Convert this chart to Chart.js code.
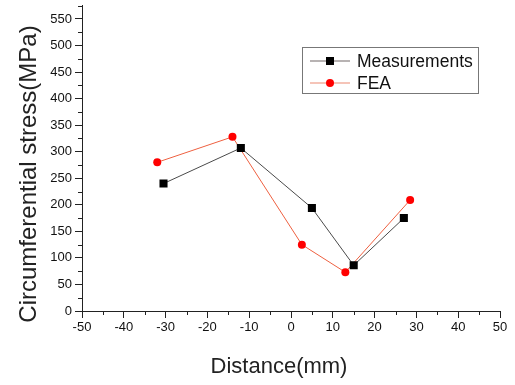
<!DOCTYPE html>
<html>
<head>
<meta charset="utf-8">
<script src="https://cdn.jsdelivr.net/npm/chart.js@4.4.0/dist/chart.umd.min.js"></script>
<style>
  html, body { margin: 0; padding: 0; background: #fff; }
  #wrap { width: 515px; height: 385px; }
</style>
</head>
<body>
<div id="wrap"><canvas id="chart" width="515" height="385"></canvas></div>
<script>
// values
const measX = [-30.5, -12, 5, 15, 27];
const measY = [240, 307, 194, 86, 175];
const feaX = [-32, -14, 2.6, 13, 28.5];
const feaY = [280, 328, 125, 73, 209];
const seriesNames = ["Measurements", "FEA"];
const yTickValues = [0, 50, 100, 150, 200, 250, 300, 350, 400, 450, 500, 550];
const xTitle = "Distance(mm)";
const yTitle = "Circumferential stress(MPa)";

const FONT = "'Liberation Sans', Arial, sans-serif";

function toPoints(xs, ys) {
  return xs.map((x, i) => ({ x: x, y: ys[i] }));
}

// minor tick marks, titles and the boxed legend inside the plot
const extras = {
  id: "extras",
  afterDraw(chart) {
    const ctx = chart.ctx;
    const xs = chart.scales.x, ys = chart.scales.y;
    ctx.save();
    ctx.strokeStyle = "#222";
    ctx.lineWidth = 1;
    ctx.beginPath();
    for (let v = -45; v <= 45; v += 10) {
      const px = Math.round(xs.getPixelForValue(v)) + 0.5;
      ctx.moveTo(px, ys.bottom);
      ctx.lineTo(px, ys.bottom + 4);
    }
    for (let v = 25; v <= 575; v += 50) {
      const py = Math.round(ys.getPixelForValue(v)) + 0.5;
      ctx.moveTo(xs.left, py);
      ctx.lineTo(xs.left - 4, py);
    }
    ctx.stroke();

    // axis titles
    ctx.fillStyle = "#222";
    ctx.textAlign = "center";
    ctx.textBaseline = "middle";
    ctx.font = "22px " + FONT;
    ctx.fillText(xTitle, 279, 367);
    ctx.translate(29, 174);
    ctx.rotate(-Math.PI / 2);
    ctx.font = "24px " + FONT;
    ctx.fillText(yTitle, 0, 0);
    ctx.restore();

    // legend
    ctx.save();
    ctx.strokeStyle = "#777";
    ctx.lineWidth = 1;
    ctx.strokeRect(302.5, 47.5, 176, 46);
    const rows = [
      { y: 61, line: "#a09a9a", marker: "rect", fill: "#000" },
      { y: 83, line: "#f2b0a0", marker: "circle", fill: "#ff0000" },
    ];
    rows.forEach((r, i) => {
      ctx.strokeStyle = r.line;
      ctx.lineWidth = 1.5;
      ctx.beginPath();
      ctx.moveTo(310, r.y);
      ctx.lineTo(350, r.y);
      ctx.stroke();
      ctx.fillStyle = r.fill;
      if (r.marker === "rect") {
        ctx.fillRect(326, r.y - 4, 8, 8);
      } else {
        ctx.beginPath();
        ctx.arc(330, r.y, 4, 0, Math.PI * 2);
        ctx.fill();
      }
      ctx.fillStyle = "#111";
      ctx.font = "17.5px " + FONT;
      ctx.textAlign = "left";
      ctx.textBaseline = "middle";
      ctx.fillText(seriesNames[i], 357, r.y + 1);
    });
    ctx.restore();
  }
};

new Chart(document.getElementById("chart"), {
  type: "scatter",
  data: {
    datasets: [
      {
        label: seriesNames[0],
        data: toPoints(measX, measY),
        showLine: true,
        borderColor: "#4a4a4a",
        borderWidth: 1,
        backgroundColor: "#000",
        pointStyle: "rect",
        pointRadius: 5.7,
        pointBorderWidth: 0,
        pointHoverRadius: 5.7,
      },
      {
        label: seriesNames[1],
        data: toPoints(feaX, feaY),
        showLine: true,
        borderColor: "#ee6040",
        borderWidth: 1,
        backgroundColor: "#ff0000",
        pointStyle: "circle",
        pointRadius: 4,
        pointBorderWidth: 0,
        pointHoverRadius: 4,
      },
    ],
  },
  options: {
    responsive: false,
    animation: false,
    layout: { padding: { left: 0, right: 15, top: 4, bottom: 0 } },
    plugins: { legend: { display: false }, tooltip: { enabled: false } },
    scales: {
      x: {
        type: "linear",
        min: -50,
        max: 50,
        ticks: { stepSize: 10, color: "#111", font: { family: FONT, size: 13 }, padding: 2, maxRotation: 0 },
        grid: { drawOnChartArea: false, drawTicks: true, tickLength: 7, color: "#222" },
        border: { display: true, color: "#222", width: 1 },
        afterFit(s) { s.height = 74; s.paddingLeft = 0; s.paddingRight = 0; },
      },
      y: {
        type: "linear",
        min: 0,
        max: 575,
        ticks: { color: "#111", font: { family: FONT, size: 13 }, padding: 3 },
        grid: { drawOnChartArea: false, drawTicks: true, tickLength: 7, color: "#222" },
        border: { display: true, color: "#222", width: 1 },
        afterBuildTicks(s) { s.ticks = yTickValues.map(v => ({ value: v })); },
        afterFit(s) { s.width = 82; s.paddingTop = 0; s.paddingBottom = 0; },
      },
    },
  },
  plugins: [extras],
});
</script>
</body>
</html>
